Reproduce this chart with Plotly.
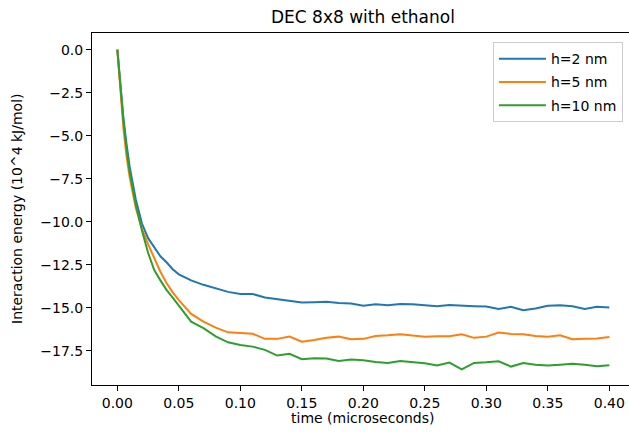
import plotly.graph_objects as go

time_us = [0, 0.0025, 0.005, 0.0075, 0.01, 0.015, 0.02, 0.025, 0.03, 0.035, 0.04, 0.045, 0.05,
           0.06, 0.07, 0.08, 0.09, 0.10, 0.11, 0.12, 0.13, 0.14, 0.15, 0.16, 0.17, 0.18, 0.19,
           0.20, 0.21, 0.22, 0.23, 0.24, 0.25, 0.26, 0.27, 0.28, 0.29, 0.30, 0.31, 0.32, 0.33,
           0.34, 0.35, 0.36, 0.37, 0.38, 0.39, 0.40]

h2_energy = [0, -2.2, -4.0, -5.5, -6.8, -8.7, -10.1, -10.95, -11.5, -12.0, -12.35, -12.75, -13.05,
             -13.4, -13.66, -13.88, -14.07, -14.19, -14.19, -14.4, -14.49, -14.56, -14.69, -14.67,
             -14.65, -14.71, -14.75, -14.88, -14.79, -14.85, -14.77, -14.79, -14.83, -14.9, -14.83,
             -14.88, -14.9, -14.92, -15.06, -14.94, -15.13, -15.04, -14.88, -14.85, -14.9, -15.06,
             -14.94, -14.98]

h5_energy = [0, -2.6, -4.6, -6.2, -7.4, -9.2, -10.4, -11.3, -12.15, -12.9, -13.55, -14.1, -14.55,
             -15.35, -15.8, -16.15, -16.42, -16.47, -16.5, -16.8, -16.8, -16.67, -16.96, -16.86,
             -16.73, -16.67, -16.82, -16.8, -16.63, -16.59, -16.53, -16.61, -16.67, -16.65, -16.65,
             -16.53, -16.74, -16.67, -16.43, -16.51, -16.53, -16.63, -16.67, -16.59, -16.82, -16.8,
             -16.78, -16.69]

h10_energy = [0, -2.3, -4.2, -5.8, -7.1, -9.0, -10.5, -11.8, -12.8, -13.4, -13.95, -14.4, -14.85,
              -15.8, -16.18, -16.65, -17.0, -17.15, -17.25, -17.44, -17.77, -17.67, -17.98, -17.92,
              -17.94, -18.08, -18.0, -18.04, -18.14, -18.2, -18.08, -18.16, -18.22, -18.35, -18.18,
              -18.57, -18.2, -18.16, -18.1, -18.41, -18.2, -18.3, -18.35, -18.3, -18.24, -18.31,
              -18.39, -18.33]

series_names = ["h=2 nm", "h=5 nm", "h=10 nm"]
series_colors = ["#1f77b4", "#ff7f0e", "#2ca02c"]

x_ticks = [0.0, 0.05, 0.10, 0.15, 0.20, 0.25, 0.30, 0.35, 0.40]
x_tick_labels = ["0.00", "0.05", "0.10", "0.15", "0.20", "0.25", "0.30", "0.35", "0.40"]
y_ticks = [0.0, -2.5, -5.0, -7.5, -10.0, -12.5, -15.0, -17.5]
y_tick_labels = ["0.0", "\u22122.5", "\u22125.0", "\u22127.5", "\u221210.0", "\u221212.5",
                 "\u221215.0", "\u221217.5"]

FONT = "DejaVu Sans"

fig = go.Figure()
for name, color, ys in zip(series_names, series_colors, [h2_energy, h5_energy, h10_energy]):
    fig.add_trace(go.Scatter(x=time_us, y=ys, mode="lines", name=name, legendgroup=name,
                             line=dict(color=color, width=2)))

fig.update_layout(
    width=629, height=432, autosize=False,
    margin=dict(l=92, r=0, t=33, b=47, pad=0, autoexpand=False),
    plot_bgcolor="white", paper_bgcolor="white",
    font=dict(family=FONT, size=14, color="#000"),
    showlegend=True,
    legend=dict(x=0.7466, y=0.974, xanchor="left", yanchor="top",
                bgcolor="rgba(255,255,255,0.8)", bordercolor="#cccccc", borderwidth=1,
                font=dict(family=FONT, size=14, color="#000"), tracegroupgap=2,
                itemwidth=47),
    xaxis=dict(range=[-0.0206, 0.416], tickmode="array", tickvals=x_ticks,
               ticktext=x_tick_labels, automargin=False,
               showgrid=False, zeroline=False, showline=True, linecolor="#000", linewidth=1,
               mirror=True, ticks="outside", ticklen=5, tickwidth=1, tickcolor="#000",
               tickfont=dict(family=FONT, size=14, color="#000")),
    yaxis=dict(range=[-19.48, 0.97], tickmode="array", tickvals=y_ticks,
               ticktext=y_tick_labels, automargin=False,
               showgrid=False, zeroline=False, showline=True, linecolor="#000", linewidth=1,
               mirror=False, ticks="outside", ticklen=5, tickwidth=1, tickcolor="#000",
               tickfont=dict(family=FONT, size=14, color="#000")),
    annotations=[
        dict(text="DEC 8x8 with ethanol", xref="paper", yref="paper", x=0.504, y=1.0,
             yshift=16, xanchor="center", yanchor="middle", showarrow=False,
             font=dict(family=FONT, size=17, color="#000")),
        dict(text="time (microseconds)", xref="paper", yref="paper", x=0.504, y=0.0,
             yshift=-33, xanchor="center", yanchor="middle", showarrow=False,
             font=dict(family=FONT, size=14, color="#000")),
        dict(text="Interaction energy (10^4 kJ/mol)", xref="paper", yref="paper", x=0.0,
             y=0.5, xshift=-75, xanchor="center", yanchor="middle", textangle=-90,
             showarrow=False, font=dict(family=FONT, size=14, color="#000")),
    ],
)

fig.write_html("out.html", config={"displayModeBar": False},
               post_script="document.body.style.margin='0';document.body.style.overflow='hidden';")
